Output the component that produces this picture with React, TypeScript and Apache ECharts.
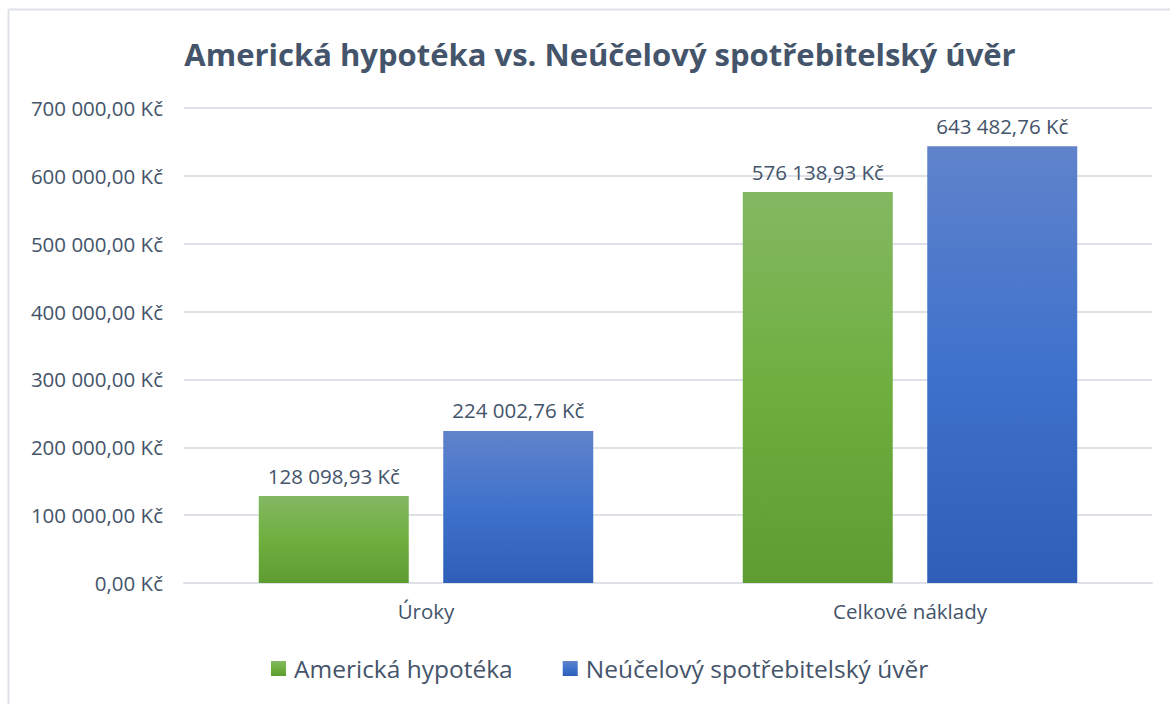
import React, { useEffect, useRef } from "react";
import * as echarts from "echarts";

const categories = ["Úroky", "Celkové náklady"];
const seriesNames = ["Americká hypotéka", "Neúčelový spotřebitelský úvěr"];
const americka = [128098.93, 576138.93];
const neucelovy = [224002.76, 643482.76];
const titleText = "Americká hypotéka vs. Neúčelový spotřebitelský úvěr";

const FONT = "'Open Sans', 'Noto Sans', sans-serif";
const TXT = "#44546A";
const GRID = "#DEE2E8";

function fmtKc(v: number): string {
  const fixed = v.toFixed(2);
  const [intPart, dec] = fixed.split(".");
  const withSpaces = intPart.replace(/\B(?=(\d{3})+(?!\d))/g, " ");
  return `${withSpaces},${dec} Kč`;
}

export default function App() {
  const ref = useRef<HTMLDivElement>(null);
  useEffect(() => {
    document.body.style.margin = "0";
    if (!ref.current) return;
    const chart = echarts.init(ref.current, undefined, { renderer: "svg" });
    const green = new echarts.graphic.LinearGradient(0, 0, 0, 1, [
      { offset: 0, color: "#84B862" },
      { offset: 0.5, color: "#6EAF3F" },
      { offset: 1, color: "#5E9C31" },
    ]);
    const blue = new echarts.graphic.LinearGradient(0, 0, 0, 1, [
      { offset: 0, color: "#6083CB" },
      { offset: 0.5, color: "#3F72CC" },
      { offset: 1, color: "#2E5EB8" },
    ]);
    const labelCfg = {
      show: true,
      position: "top" as const,
      distance: 10,
      color: TXT,
      fontSize: 20.5,
      fontFamily: FONT,
      formatter: (p: any) => fmtKc(p.value),
    };
    chart.setOption({
      animation: false,
      backgroundColor: "#FFFFFF",
      textStyle: { fontFamily: FONT },
      title: {
        text: titleText,
        left: 595,
        textAlign: "center",
        top: 33,
        textStyle: { fontSize: 31, fontWeight: "bold", color: TXT, fontFamily: FONT },
      },
      graphic: [
        { type: "line", shape: { x1: 8.5, y1: 9.5, x2: 1170, y2: 9.5 }, style: { stroke: GRID, lineWidth: 2 } },
        { type: "line", shape: { x1: 8.5, y1: 9.5, x2: 8.5, y2: 704 }, style: { stroke: GRID, lineWidth: 2 } },
      ],
      legend: {
        bottom: 18,
        left: 266,
        itemWidth: 15,
        itemHeight: 15,
        itemGap: 50,
        icon: "rect",
        textStyle: { fontSize: 24.5, color: TXT, fontFamily: FONT, padding: [0, 0, 0, 3] },
        data: seriesNames,
      },
      grid: { left: 184, right: 18, top: 108, bottom: 121, containLabel: false },
      xAxis: {
        type: "category",
        data: categories,
        axisTick: { show: false },
        axisLine: { lineStyle: { color: GRID, width: 2 } },
        axisLabel: { fontSize: 20.5, color: TXT, margin: 17, fontFamily: FONT },
      },
      yAxis: {
        type: "value",
        min: 0,
        max: 700000,
        interval: 100000,
        axisLine: { show: false },
        axisTick: { show: false },
        splitLine: { lineStyle: { color: GRID, width: 2 } },
        axisLabel: {
          fontSize: 20.5,
          color: TXT,
          margin: 21,
          fontFamily: FONT,
          formatter: (v: number) => fmtKc(v),
        },
      },
      series: [
        {
          name: seriesNames[0],
          type: "bar",
          data: americka,
          barWidth: 150,
          barGap: "23%",
          itemStyle: { color: green },
          label: labelCfg,
        },
        {
          name: seriesNames[1],
          type: "bar",
          data: neucelovy,
          barWidth: 150,
          barGap: "23%",
          itemStyle: { color: blue },
          label: labelCfg,
        },
      ],
    });
    return () => chart.dispose();
  }, []);
  return <div ref={ref} style={{ width: 1170, height: 704 }} />;
}
